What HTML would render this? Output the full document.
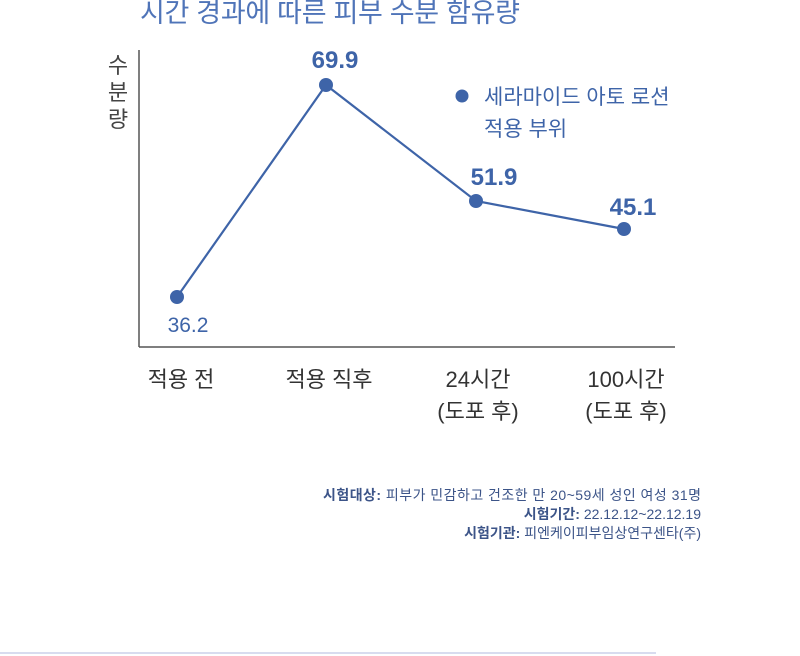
<!DOCTYPE html>
<html><head><meta charset="utf-8"><style>
body{margin:0;background:#fff;width:800px;height:656px;overflow:hidden}
svg{display:block}
text{font-family:"Liberation Sans","Noto Sans CJK KR",sans-serif}
</style></head><body>
<svg width="800" height="656" viewBox="0 0 800 656">
<text x="140" y="22" font-size="27" fill="#4f74b8" textLength="380">시간 경과에 따른 피부 수분 함유량</text>
<line x1="139" y1="50" x2="139" y2="347" stroke="#555" stroke-width="1.5"/>
<line x1="139" y1="347" x2="675" y2="347" stroke="#555" stroke-width="1.5"/>
<g font-size="22" fill="#444">
<text x="118" y="73" text-anchor="middle">수</text>
<text x="118" y="100" text-anchor="middle">분</text>
<text x="118" y="127" text-anchor="middle">량</text>
</g>
<polyline points="177,297 326,85 476,201 624,229" fill="none" stroke="#3e64a8" stroke-width="2.2"/>
<g fill="#3e64a8">
<circle cx="177" cy="297" r="7"/><circle cx="326" cy="85" r="7"/>
<circle cx="476" cy="201" r="7"/><circle cx="624" cy="229" r="7"/>
<circle cx="462" cy="96" r="6.5"/>
</g>
<text x="188" y="332" font-size="21" fill="#3e64a8" text-anchor="middle">36.2</text>
<g font-size="24" font-weight="bold" fill="#3e64a8" text-anchor="middle">
<text x="335" y="68">69.9</text>
<text x="494" y="185">51.9</text>
<text x="633" y="215">45.1</text>
</g>
<g font-size="21" fill="#3e64a8">
<text x="484" y="104">세라마이드 아토 로션</text>
<text x="484" y="136">적용 부위</text>
</g>
<g font-size="22" fill="#333" text-anchor="middle">
<text x="181" y="387">적용 전</text>
<text x="329" y="387">적용 직후</text>
<text x="478" y="387">24시간</text>
<text x="478" y="419">(도포 후)</text>
<text x="626" y="387">100시간</text>
<text x="626" y="419">(도포 후)</text>
</g>
<g font-size="14" fill="#3c5488" text-anchor="end">
<text x="701" y="500" textLength="378"><tspan font-weight="bold">시험대상:</tspan> 피부가 민감하고 건조한 만 20~59세 성인 여성 31명</text>
<text x="701" y="519"><tspan font-weight="bold">시험기간:</tspan> 22.12.12~22.12.19</text>
<text x="701" y="538"><tspan font-weight="bold">시험기관:</tspan> 피엔케이피부임상연구센타(주)</text>
</g>
<rect x="0" y="652" width="656" height="2" fill="#d8dcef"/>
</svg>
</body></html>
